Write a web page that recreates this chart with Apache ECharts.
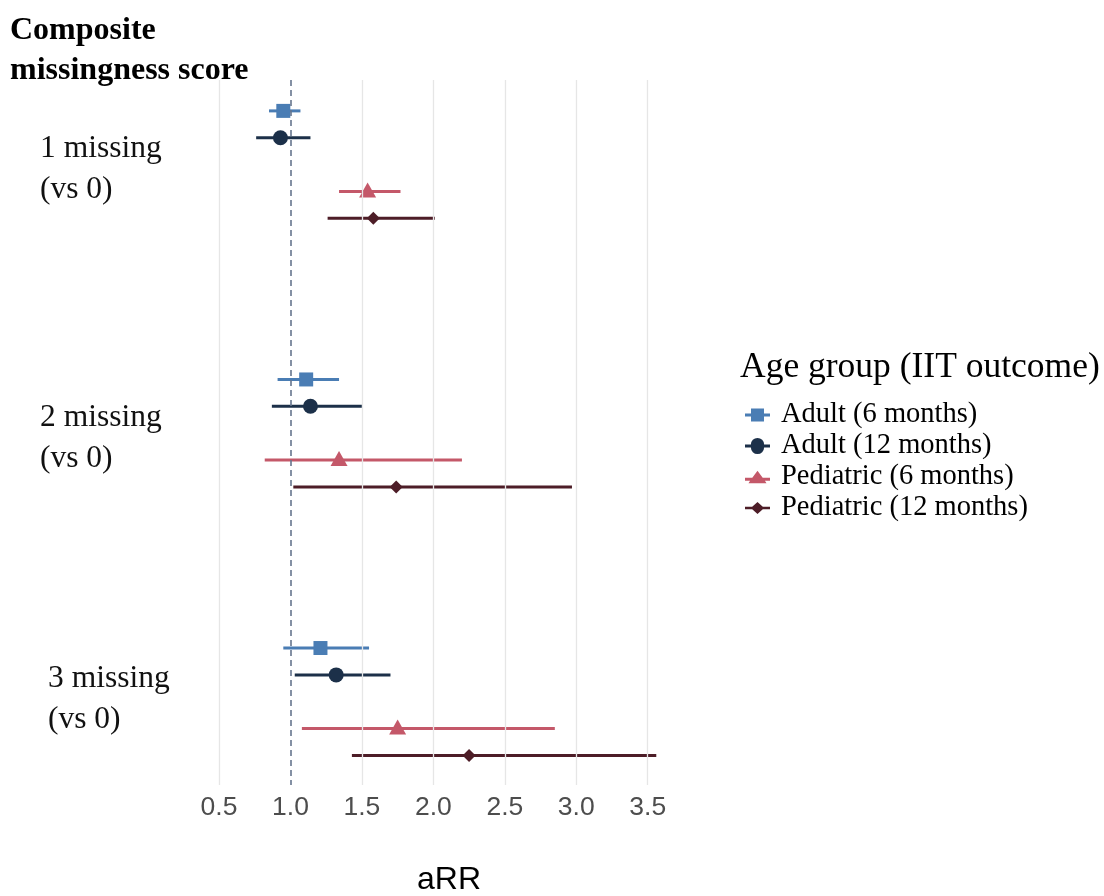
<!DOCTYPE html>
<html>
<head>
<meta charset="utf-8">
<script src="https://cdn.jsdelivr.net/npm/echarts@6/dist/echarts.min.js"></script>
<style>
  html, body { margin: 0; padding: 0; background: #ffffff; }
  #chart { width: 1104px; height: 896px; }
</style>
</head>
<body>
<div id="chart"></div>
<script>
// ---- data ----
const groupLabels = ['1 missing\n(vs 0)', '2 missing\n(vs 0)', '3 missing\n(vs 0)'];
const seriesNames = ['Adult (6 months)', 'Adult (12 months)', 'Pediatric (6 months)', 'Pediatric (12 months)'];
const xTicks = [0.5, 1.0, 1.5, 2.0, 2.5, 3.0, 3.5];
const refValue = 1.0;

const adult6Est  = [0.95, 1.11, 1.21];
const adult6Lo   = [0.85, 0.91, 0.95];
const adult6Hi   = [1.07, 1.34, 1.55];

const adult12Est = [0.93, 1.14, 1.32];
const adult12Lo  = [0.76, 0.87, 1.03];
const adult12Hi  = [1.14, 1.50, 1.70];

const ped6Est    = [1.54, 1.34, 1.75];
const ped6Lo     = [1.34, 0.82, 1.08];
const ped6Hi     = [1.77, 2.20, 2.85];

const ped12Est   = [1.58, 1.74, 2.25];
const ped12Lo    = [1.26, 1.02, 1.43];
const ped12Hi    = [2.01, 2.97, 3.56];

// ---- styling / layout ----
const colors = ['#4a7db4', '#1c3049', '#c45869', '#4d1d27'];
const symbols = ['rect', 'circle', 'triangle', 'diamond'];
const symbolSizes = [14, 15, [17, 15], 13];
const symbolOffsets = [[0, 0], [0, 0], [0, -1.5], [0, 0]];
const rowOffset = [0, 1, 3, 4];   // dodge slots within a group
const groupStep = 10;
const legendIcons = [
  'path://M0,8.5H6V3.5H19V8.5H25V11.5H19V16.5H6V11.5H0Z',
  'path://M0,8.5H5.9A6.6,6.6 0 0 1 19.1,8.5H25V11.5H19.1A6.6,6.6 0 0 1 5.9,11.5H0Z',
  'path://M0,8.5H7.3L12.5,1.5L17.7,8.5H25V11.5H19.9L21.5,14H3.5L5.1,11.5H0Z',
  'path://M0,8.7H7.2L12.5,4L17.8,8.7H25V11.3H17.8L12.5,16L7.2,11.3H0Z'
];

const allEst = [adult6Est, adult12Est, ped6Est, ped12Est];
const allLo  = [adult6Lo, adult12Lo, ped6Lo, ped12Lo];
const allHi  = [adult6Hi, adult12Hi, ped6Hi, ped12Hi];

const series = [];
// background gridlines + reference line
series.push({
  type: 'scatter',
  data: [],
  silent: true,
  z: 0,
  markLine: {
    silent: true,
    symbol: 'none',
    label: { show: false },
    animation: false,
    data: xTicks.filter(v => v !== refValue).map(v => ({ xAxis: v, lineStyle: { color: '#e6e6e6', width: 1.3, type: 'solid' } }))
      .concat([{ xAxis: refValue, lineStyle: { color: '#66768e', width: 1.6, type: [6, 4] } }])
  }
});

seriesNames.forEach((name, s) => {
  const bars = allEst[s].map((e, g) => [allLo[s][g], allHi[s][g], g * groupStep + rowOffset[s]]);
  const pts = allEst[s].map((e, g) => [e, g * groupStep + rowOffset[s]]);
  series.push({
    name: name,
    type: 'custom',
    z: 3,
    renderItem: function (params, api) {
      const a = api.coord([api.value(0), api.value(2)]);
      const b = api.coord([api.value(1), api.value(2)]);
      return {
        type: 'line',
        shape: { x1: a[0], y1: a[1], x2: b[0], y2: b[1] },
        style: { stroke: colors[s], lineWidth: 3 }
      };
    },
    encode: { x: [0, 1], y: 2 },
    data: bars
  });
  series.push({
    name: name,
    type: 'scatter',
    z: 4,
    symbol: symbols[s],
    symbolSize: symbolSizes[s],
    symbolOffset: symbolOffsets[s],
    itemStyle: { color: colors[s], opacity: 1 },
    data: pts
  });
});

const serif = '"Liberation Serif", "Times New Roman", serif';
const sans = '"Liberation Sans", Arial, sans-serif';

const groupLabelPos = [[40, 128], [40, 397], [48, 658]];
const graphics = [
  {
    type: 'text', left: 10, top: 11,
    style: { text: 'Composite\nmissingness score', font: 'bold 32px ' + serif, lineHeight: 40, fill: '#000' }
  },
  {
    type: 'text', left: 740, top: 350,
    style: { text: 'Age group (IIT outcome)', font: '35.5px ' + serif, fill: '#000' }
  },
  {
    type: 'text', x: 449, y: 880,
    style: { text: 'aRR', font: '32px ' + sans, fill: '#000', align: 'center', verticalAlign: 'middle' }
  }
].concat(groupLabels.map((t, i) => ({
  type: 'text', left: groupLabelPos[i][0], top: groupLabelPos[i][1],
  style: { text: t, font: '31.5px ' + serif, lineHeight: 41, fill: '#111' }
})));

const chart = echarts.init(document.getElementById('chart'), null, { renderer: 'canvas' });
chart.setOption({
  animation: false,
  backgroundColor: '#ffffff',
  grid: { left: 219, right: 1104 - 662, top: 80, bottom: 896 - 785, containLabel: false },
  xAxis: {
    type: 'value',
    min: 0.5,
    max: 3.6,
    interval: 0.5,
    axisLine: { show: false },
    axisTick: { show: false },
    splitLine: { show: false },
    axisLabel: {
      showMaxLabel: false,
      margin: 9,
      color: '#4d4d4d',
      fontFamily: sans,
      fontSize: 26.5,
      formatter: v => v.toFixed(1)
    }
  },
  yAxis: {
    type: 'value',
    inverse: true,
    min: -1.15,
    max: 25.1,
    show: false
  },
  legend: {
    orient: 'vertical',
    left: 740,
    top: 395,
    itemWidth: 25,
    itemHeight: 20,
    itemGap: 1,
    data: seriesNames.map((n, i) => ({ name: n, icon: legendIcons[i], itemStyle: { color: colors[i] } })),
    textStyle: { fontFamily: serif, fontSize: 28.5, lineHeight: 30, color: '#000', padding: [0, 0, 0, 6] }
  },
  graphic: graphics,
  series: series
});
</script>
</body>
</html>
